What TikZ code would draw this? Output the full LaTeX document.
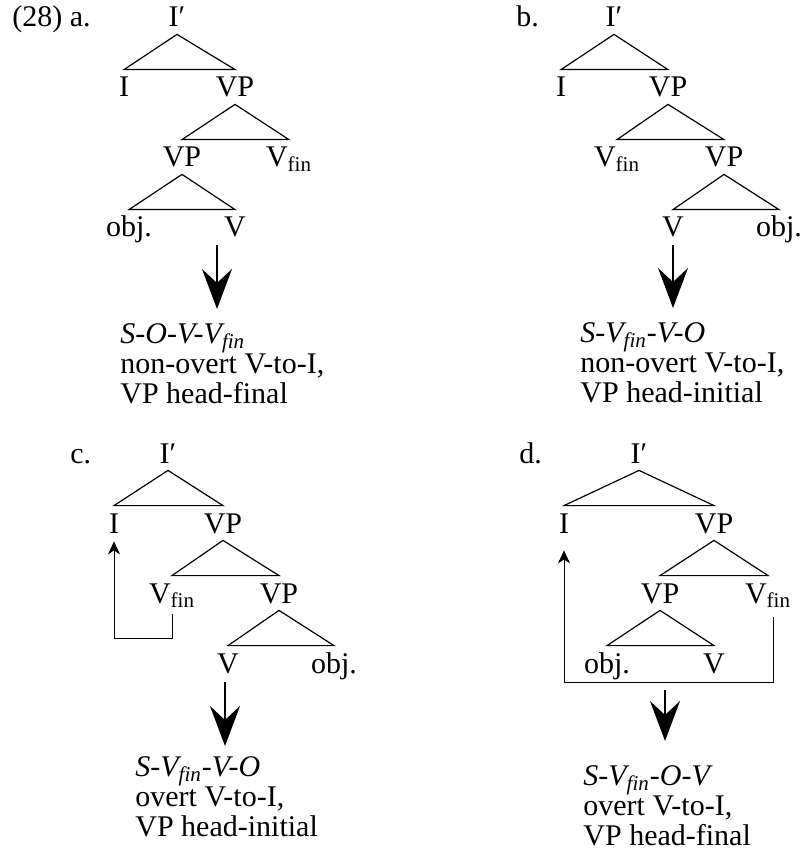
\documentclass[tikz,border=0pt]{standalone}
\usepackage{fontspec}
\setmainfont{Liberation Serif}
\usetikzlibrary{arrows.meta}

\begin{document}
\begin{tikzpicture}[
    x=0.5pt, y=-0.5pt,
    font=\fontsize{15}{15}\selectfont,
    % tree labels and texts
    lab/.style={inner sep=0pt, text height=9pt, text depth=0pt, anchor=base},
    num/.style={inner sep=0pt, anchor=base west},
    res/.style={inner sep=0pt, anchor=north west, align=left},
    % lines
    tri/.style={draw, line width=0.6pt, line join=miter},
    bigarr/.style={draw, line width=1pt, -{Stealth[length=20pt, width=15pt, inset=7pt]}, shorten >=7pt},
    mov/.style={draw, line width=0.5pt, -{Stealth[length=6.5pt, width=6pt, inset=2pt]}},
]
\useasboundingbox (0,0) rectangle (803,854);

% =========================================================
% a. non-overt V-to-I, VP head-final
% =========================================================
\begin{scope}
\node[num] (aNum) at (12,27) {(28) a.};

% labels
\node[lab] (aIbar) at (177, 27) {I′};
\node[lab] (aI)    at (124, 97) {I};
\node[lab] (aVP)   at (235, 97) {VP};
\node[lab] (aVPb)  at (182,167) {VP};
\node[lab] (aVfin) at (289,167) {V\textsubscript{fin}};
\node[lab] (aObj)  at (129,237) {obj.};
\node[lab] (aV)    at (235,237) {V};

% triangles
\draw[tri] ([yshift=-3.5pt]aIbar.south) -- ([yshift=4.5pt]aI.north)   -- ([yshift=4.5pt]aVP.north)   -- cycle;
\draw[tri] ([yshift=-3.5pt]aVP.south)   -- ([yshift=4.5pt]aVPb.north) -- ([yshift=4.5pt]aVfin.north) -- cycle;
\draw[tri] ([yshift=-3.5pt]aVPb.south)  -- ([yshift=4.5pt]aObj.north) -- ([yshift=4.5pt]aV.north)    -- cycle;

% result
\node[res] (aRes) at (120,323) {\textit{S-O-V-V\textsubscript{fin}}\\non-overt V-to-I,\\VP head-final};
\coordinate (aTail) at (217,245);
\draw[bigarr] (aTail) -- (aTail |- aRes.north);
\end{scope}

% =========================================================
% b. non-overt V-to-I, VP head-initial
% =========================================================
\begin{scope}
\node[num] (bNum) at (516,27) {b.};

% labels
\node[lab] (bIbar) at (614, 27) {I′};
\node[lab] (bI)    at (561, 97) {I};
\node[lab] (bVP)   at (668, 97) {VP};
\node[lab] (bVfin) at (617,167) {V\textsubscript{fin}};
\node[lab] (bVPb)  at (724,167) {VP};
\node[lab] (bV)    at (673,237) {V};
\node[lab] (bObj)  at (779,237) {obj.};

% triangles
\draw[tri] ([yshift=-3.5pt]bIbar.south) -- ([yshift=4.5pt]bI.north)    -- ([yshift=4.5pt]bVP.north)  -- cycle;
\draw[tri] ([yshift=-3.5pt]bVP.south)   -- ([yshift=4.5pt]bVfin.north) -- ([yshift=4.5pt]bVPb.north) -- cycle;
\draw[tri] ([yshift=-3.5pt]bVPb.south)  -- ([yshift=4.5pt]bV.north)    -- ([yshift=4.5pt]bObj.north) -- cycle;

% result
\node[res] (bRes) at (580,322) {\textit{S-V\textsubscript{fin}-V-O}\\non-overt V-to-I,\\VP head-initial};
\coordinate (bTail) at (673,245);
\draw[bigarr] (bTail) -- (bTail |- bRes.north);
\end{scope}

% =========================================================
% c. overt V-to-I, VP head-initial
% =========================================================
\begin{scope}
\node[num] (cNum) at (70,463) {c.};

% labels
\node[lab] (cIbar) at (168,463) {I′};
\node[lab] (cI)    at (114,533) {I};
\node[lab] (cVP)   at (223,533) {VP};
\node[lab] (cVfin) at (172,603) {V\textsubscript{fin}};
\node[lab] (cVPb)  at (279,603) {VP};
\node[lab] (cV)    at (228,673) {V};
\node[lab] (cObj)  at (334,673) {obj.};

% triangles
\draw[tri] ([yshift=-3.5pt]cIbar.south) -- ([yshift=4.5pt]cI.north)    -- ([yshift=4.5pt]cVP.north)  -- cycle;
\draw[tri] ([yshift=-3.5pt]cVP.south)   -- ([yshift=4.5pt]cVfin.north) -- ([yshift=4.5pt]cVPb.north) -- cycle;
\draw[tri] ([yshift=-3.5pt]cVPb.south)  -- ([yshift=4.5pt]cV.north)    -- ([yshift=4.5pt]cObj.north) -- cycle;

% V-to-I movement
\draw[mov] ([yshift=-5.5pt]cVfin.south) -- ++(0,24) -| ([yshift=-4pt]cI.south);

% result
\node[res] (cRes) at (135,756) {\textit{S-V\textsubscript{fin}-V-O}\\overt V-to-I,\\VP head-initial};
\coordinate (cTail) at (225,682);
\draw[bigarr, shorten >=5pt] (cTail) -- (cTail |- cRes.north);
\end{scope}

% =========================================================
% d. overt V-to-I, VP head-final
% =========================================================
\begin{scope}
\node[num] (dNum) at (519,463) {d.};

% labels
\node[lab] (dIbar) at (639,463) {I′};
\node[lab] (dI)    at (564,533) {I};
\node[lab] (dVP)   at (714,533) {VP};
\node[lab] (dVPb)  at (660,603) {VP};
\node[lab] (dVfin) at (768,603) {V\textsubscript{fin}};
\node[lab] (dObj)  at (607,673) {obj.};
\node[lab] (dV)    at (714,673) {V};

% triangles
\draw[tri] ([yshift=-3.5pt]dIbar.south) -- ([yshift=4.5pt]dI.north)    -- ([yshift=4.5pt]dVP.north)   -- cycle;
\draw[tri] ([yshift=-3.5pt]dVP.south)   -- ([yshift=4.5pt]dVPb.north)  -- ([yshift=4.5pt]dVfin.north) -- cycle;
\draw[tri] ([yshift=-3.5pt]dVPb.south)  -- ([yshift=4.5pt]dObj.north)  -- ([yshift=4.5pt]dV.north)    -- cycle;

% V-to-I movement
\draw[mov] ([xshift=2.5pt,yshift=-7pt]dVfin.south) -- ++(0,65) -| ([yshift=-8.5pt]dI.south);

% result
\node[res] (dRes) at (583,765) {\textit{S-V\textsubscript{fin}-O-V}\\overt V-to-I,\\VP head-final};
\coordinate (dTail) at (665,690);
\draw[bigarr, shorten >=12pt] (dTail) -- (dTail |- dRes.north);
\end{scope}

\end{tikzpicture}
\end{document}
